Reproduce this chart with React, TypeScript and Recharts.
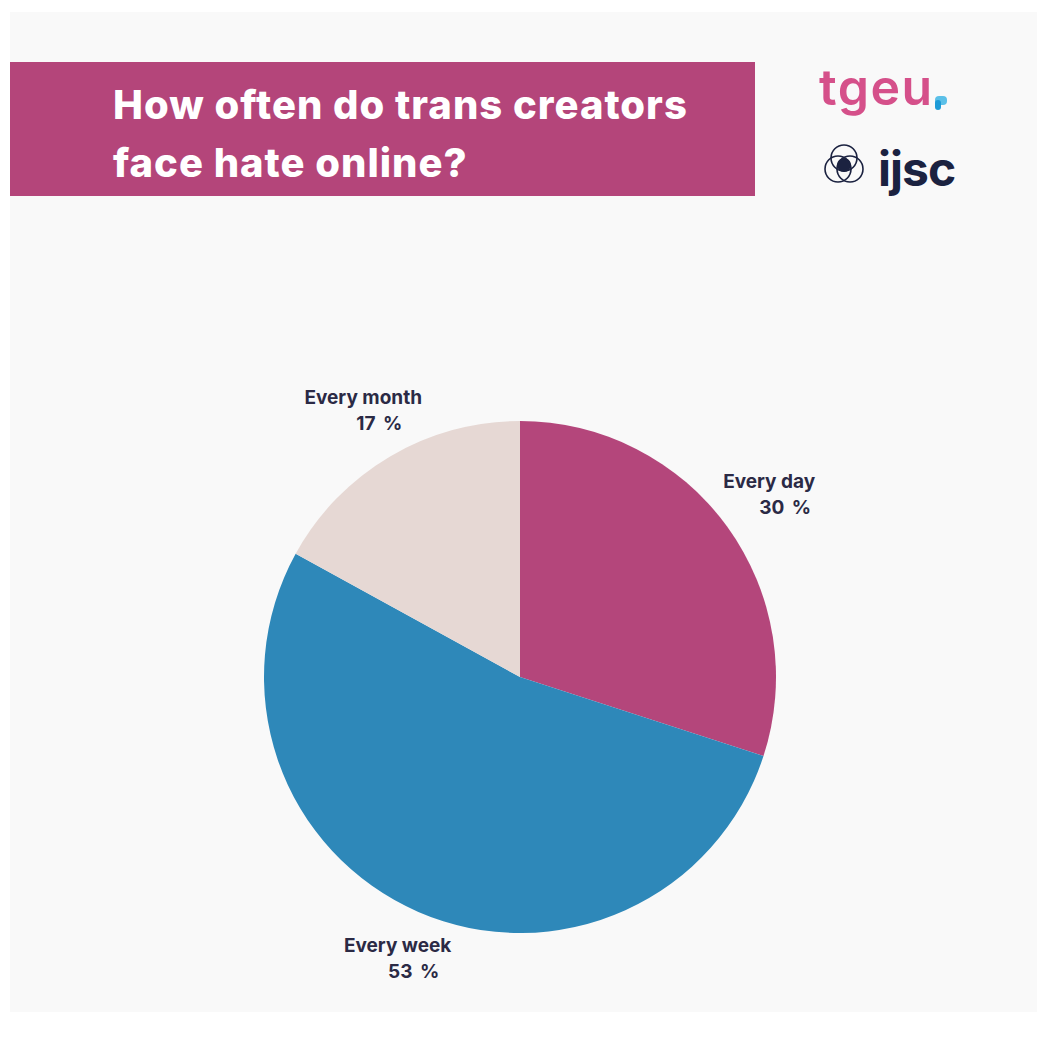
import { PieChart, Pie, Cell } from 'recharts';

const categories = ['Every day', 'Every week', 'Every month'];
const shares = [30, 53, 17];
const colors = ['#b4467b', '#2e88b9', '#e6d8d4'];

const data = categories.map((name, i) => ({ name, value: shares[i] }));

const RAD = Math.PI / 180;

const renderLabel = (props: any) => {
  const { cx, cy, midAngle, outerRadius, name, value } = props;
  const r = outerRadius + 52;
  const x = cx + r * Math.cos(-midAngle * RAD);
  const y = cy + r * Math.sin(-midAngle * RAD);
  return (
    <g>
      <text x={x} y={y - 8} textAnchor="middle" fill="#2b2a45" fontSize={19} fontWeight={700}
        fontFamily="Inter, 'Noto Sans', sans-serif">
        {name}
      </text>
      <text x={x + 16} y={y + 18} textAnchor="middle" fill="#2b2a45" fontSize={19} fontWeight={700}
        fontFamily="Inter, 'Noto Sans', sans-serif" wordSpacing={3}>
        {value} %
      </text>
    </g>
  );
};

const Logos = () => (
  <svg width={200} height={150} style={{ position: 'absolute', left: 800, top: 50 }}>
    <text x={19} y={55} fill="#d5508a" fontSize={50} fontWeight={600}
      fontFamily="Inter, 'Open Sans', sans-serif" letterSpacing={1.5}>
      tgeu
    </text>
    <rect x={135} y={46} width={12} height={9} rx={4} fill="#5bc0e8" />
    <rect x={135} y={50} width={6} height={10} rx={3} fill="#1e9bd7" />
    <g fill="none" stroke="#1b2240" strokeWidth={1.6}>
      <circle cx={44} cy={108} r={13} />
      <circle cx={38} cy={119} r={13} />
      <circle cx={50} cy={119} r={13} />
    </g>
    <circle cx={44} cy={115} r={7} fill="#1b2240" />
    <text x={78} y={136} fill="#1b2240" fontSize={48} fontWeight={700}
      fontFamily="Inter, 'Noto Sans', sans-serif" letterSpacing={-1}>
      ijsc
    </text>
  </svg>
);

export default function App() {
  return (
    <div style={{ position: 'absolute', left: 0, top: 0, width: 1039, height: 1040, background: '#ffffff' }}>
      <div style={{ position: 'absolute', left: 10, top: 12, width: 1027, height: 1000, background: '#f9f9f9' }} />
      <div style={{ position: 'absolute', left: 10, top: 62, width: 745, height: 134, background: '#b4457a' }} />
      <div
        style={{
          position: 'absolute', left: 113, top: 76, color: '#ffffff', fontFamily: "Inter, 'Noto Sans', sans-serif",
          fontWeight: 800, fontSize: 40, lineHeight: '58px', letterSpacing: 1,
        }}
      >
        How often do trans creators
        <br />
        face hate online?
      </div>
      <Logos />
      <div style={{ position: 'absolute', left: 0, top: 0 }}>
        <PieChart width={1039} height={1040} margin={{ top: 0, right: 0, bottom: 0, left: 0 }}>
          <Pie
            data={data}
            dataKey="value"
            nameKey="name"
            cx={520}
            cy={677}
            outerRadius={256}
            startAngle={90}
            endAngle={-270}
            stroke="none"
            label={renderLabel}
            labelLine={false}
            isAnimationActive={false}
          >
            {data.map((d, i) => (
              <Cell key={d.name} fill={colors[i]} />
            ))}
          </Pie>
        </PieChart>
      </div>
    </div>
  );
}
